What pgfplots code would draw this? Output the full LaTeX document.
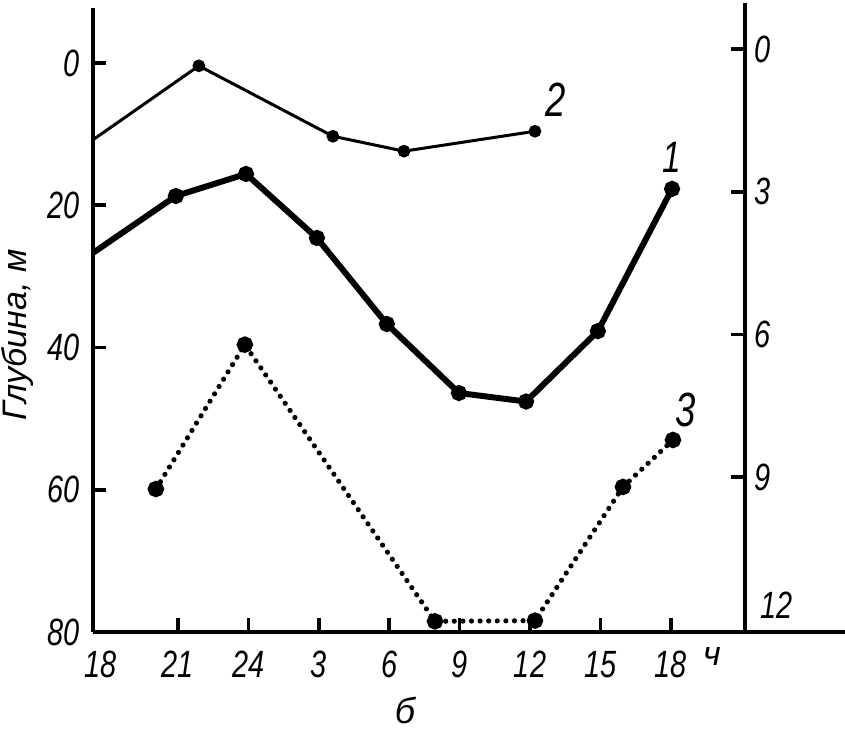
\documentclass[border=0pt]{standalone}
\usepackage{pgfplots}
\pgfplotsset{compat=1.18}
\usepackage{fontspec}
\setmainfont{Liberation Sans}
\newfontfamily\num{Liberation Sans}[FakeStretch=0.76]
\newfontfamily\lab{Liberation Sans}

% depth (m) against time (h after 18 h)
\pgfplotstableread{
h d
-0.62 26.7
2.91 18.7
5.90 15.6
8.92 24.6
11.90 36.7
14.97 46.4
17.83 47.6
20.89 37.7
24.05 17.7
}\curveone
\pgfplotstableread{
h d
-0.62 10.8
3.89 0.4
9.60 10.3
12.63 12.4
18.21 9.6
}\curvetwo
\pgfplotstableread{
h d
2.06 59.9
5.85 39.6
13.95 78.5
18.21 78.4
21.96 59.6
24.09 53.0
}\curvethree

\begin{document}
\begin{tikzpicture}
\path[use as bounding box] (0,0) rectangle (422.5pt,365.5pt);

\begin{axis}[
    at={(46.5pt,49.5pt)}, anchor=south west,
    scale only axis, width=376pt, height=312pt,
    xmin=-0.62, xmax=31.42, ymin=-7.73, ymax=80,
    y dir=reverse,
    axis x line=bottom, axis y line=left,
    axis line style={-, line width=2pt},
    major tick length=0pt,
    xtick={3,6,...,24},
    xticklabels={21,24,3,6,9,12,15,18},
    ytick={0,20,40,60,80},
    yticklabels={0,20,40,60,80},
    tick label style={font=\fontsize{19}{19}\selectfont\num\itshape},
    xticklabel style={yshift=-6pt},
    yticklabel style={xshift=-3pt},
    clip=false,
  ]
  \addplot[black, line width=3pt, mark=*, mark size=2.5pt, mark indices={2,3,4,5,6,7,8,9}]
    table[x=h, y=d] {\curveone};
  \addplot[black, line width=1.5pt, mark=*, mark size=2.4pt, mark indices={2,3,4,5}]
    table[x=h, y=d] {\curvetwo};
  \addplot[black, line width=2.6pt, line cap=round, dash pattern=on 0pt off 4.3pt,
    mark=*, mark size=2.8pt, mark options={solid}]
    table[x=h, y=d] {\curvethree};

  % short inward ticks
  \pgfplotsinvokeforeach{3,6,...,24}{
    \draw[black, line width=1.8pt] (axis cs:#1,80) -- (axis cs:#1,78);
  }
  \pgfplotsinvokeforeach{0,20,40,60}{
    \draw[black, line width=1.8pt] (axis cs:-0.62,#1) -- (axis cs:-0.05,#1);
  }

  \node[font=\fontsize{19}{19}\selectfont\num\itshape, anchor=north, yshift=-6pt]
    at (axis cs:-0.3,80) {18};
  \node[font=\fontsize{22}{22}\selectfont\num\itshape] at (axis cs:24.05,13.3) {1};
  \node[font=\fontsize{24}{24}\selectfont\num\itshape] at (axis cs:19.07,5.2) {2};
  \node[font=\fontsize{24}{24}\selectfont\num\itshape] at (axis cs:24.65,48.8) {3};
  \node[font=\fontsize{17}{17}\selectfont\lab\itshape] at (axis cs:25.75,83.5) {ч};
  \node[font=\fontsize{18}{18}\selectfont\lab\itshape] at (axis cs:12.67,91.0) {б};
\end{axis}

\begin{axis}[
    at={(46.5pt,49.5pt)}, anchor=south west,
    scale only axis, width=326pt, height=314.5pt,
    xmin=0, xmax=1, ymin=-0.97, ymax=12.26,
    y dir=reverse,
    axis x line=none, axis y line*=right,
    axis line style={-, line width=2pt},
    major tick length=0pt,
    ytick={0,3,6,9},
    yticklabels={0,3,6,9},
    tick label style={font=\fontsize{19}{19}\selectfont\num\itshape},
    yticklabel style={xshift=1pt},
    clip=false,
  ]
  \pgfplotsinvokeforeach{0,3,6,9}{
    \draw[black, line width=1.8pt] (axis cs:1,#1) -- (axis cs:0.978,#1);
  }
  \node[font=\fontsize{19}{19}\selectfont\num\itshape, anchor=west, xshift=4pt]
    at (axis cs:1,11.7) {12};
\end{axis}

\node[rotate=90, font=\fontsize{17}{17}\selectfont\lab\itshape] at (9pt,198pt) {Глубина, м};
\end{tikzpicture}
\end{document}
